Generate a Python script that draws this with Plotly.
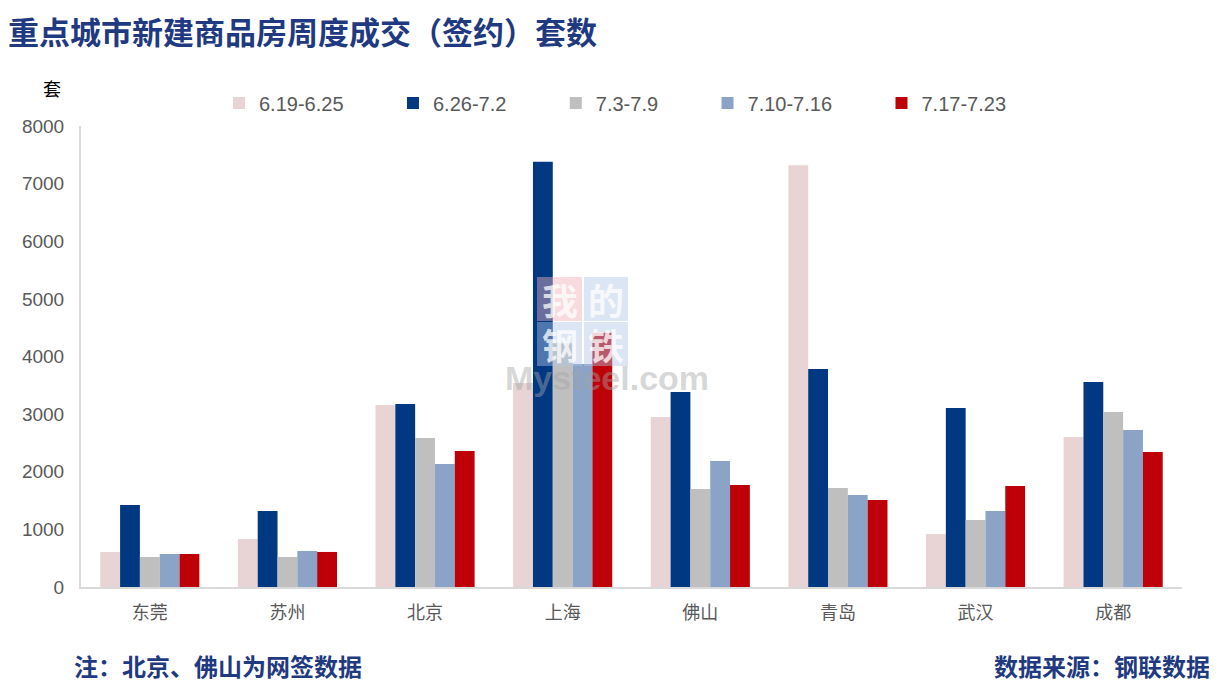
import plotly.graph_objects as go

cities = ["东莞", "苏州", "北京", "上海", "佛山", "青岛", "武汉", "成都"]
weeks = ["6.19-6.25", "6.26-7.2", "7.3-7.9", "7.10-7.16", "7.17-7.23"]
w1 = [608, 833, 3160, 3540, 2951, 7320, 920, 2604]
w2 = [1424, 1319, 3177, 7378, 3385, 3785, 3108, 3559]
w3 = [521, 521, 2587, 4230, 1701, 1719, 1163, 3038]
w4 = [573, 625, 2135, 3872, 2188, 1597, 1319, 2726]
w5 = [573, 608, 2361, 4410, 1771, 1510, 1753, 2344]
series = [w1, w2, w3, w4, w5]
colors = ["#E8D4D4", "#003882", "#BFBFBF", "#8AA3C6", "#BE0008"]

NBSP = "\u00a0"
fig = go.Figure()
for name, vals, c in zip(weeks, series, colors):
    fig.add_trace(go.Bar(x=cities, y=vals, name=name + NBSP * 8,
                         marker=dict(color=c, line=dict(width=0))))

OFF = 8  # page body margin
FW, FH = 1217 - OFF, 683 - OFF
L, R, T, B = 81, 1182, 126, 587  # plot area in screen pixels
W, H = R - L, B - T
def px(x):
    return (x - L) / W
def py(y):
    return (B - y) / H

shapes = []
annotations = []
cells = [
    (537, 582, 277, 321, "rgba(240,175,185,0.45)", "我"),
    (584, 628, 277, 321, "rgba(175,198,228,0.45)", "的"),
    (537, 582, 322, 366, "rgba(175,198,228,0.45)", "钢"),
    (584, 628, 322, 366, "rgba(175,198,228,0.45)", "铁"),
]
for x0, x1, y0, y1, col, ch in cells:
    shapes.append(dict(type="rect", xref="paper", yref="paper", x0=px(x0), x1=px(x1),
                       y0=py(y1), y1=py(y0), fillcolor=col, line=dict(width=0), layer="above"))
    annotations.append(dict(xref="paper", yref="paper", x=px((x0 + x1) / 2), y=py((y0 + y1) / 2),
                            text="<b>" + ch + "</b>", showarrow=False,
                            font=dict(family="Noto Sans CJK SC", size=36, color="rgba(255,255,255,0.75)"),
                            xanchor="center", yanchor="middle"))
annotations.append(dict(xref="paper", yref="paper", x=px(607), y=py(378), text="<b>Mysteel.com</b>",
                        showarrow=False, font=dict(family="Liberation Sans", size=34,
                                                   color="rgba(165,165,165,0.45)"),
                        xanchor="center", yanchor="middle"))
annotations.append(dict(xref="paper", yref="paper", x=px(52), y=py(88), text="套", showarrow=False,
                        font=dict(family="Noto Sans CJK SC", size=18, color="#000000"),
                        xanchor="center", yanchor="middle"))
annotations.append(dict(xref="paper", yref="paper", x=px(72), y=py(665), text="<b>注：北京、佛山为网签数据</b>",
                        showarrow=False, font=dict(family="Noto Sans CJK SC", size=24, color="#1F3A80"),
                        xanchor="left", yanchor="middle"))
annotations.append(dict(xref="paper", yref="paper", x=px(1212), y=py(665), text="<b>数据来源：钢联数据</b>",
                        showarrow=False, font=dict(family="Noto Sans CJK SC", size=24, color="#1F3A80"),
                        xanchor="right", yanchor="middle"))

fig.update_layout(
    width=FW, height=FH,
    margin=dict(l=L - OFF, r=FW - (R - OFF), t=T - OFF, b=FH - (B - OFF), autoexpand=False),
    paper_bgcolor="white", plot_bgcolor="white",
    barmode="group", bargap=0.28, bargroupgap=0,
    title=dict(text="<b>重点城市新建商品房周度成交（签约）套数</b>", xref="container", yref="container",
               x=0.0, y=1 - (33 - OFF) / FH, xanchor="left", yanchor="middle", pad=dict(l=0),
               font=dict(family="Noto Sans CJK SC", size=31, color="#1F3A80")),
    legend=dict(orientation="h", x=px(219), y=py(103), xanchor="left", yanchor="middle",
                font=dict(family="Liberation Sans", size=20, color="#595959"),
                bgcolor="rgba(0,0,0,0)", itemwidth=30, traceorder="normal"),
    xaxis=dict(showline=True, linecolor="#D9D9D9", linewidth=2, showgrid=False, ticks="",
               tickfont=dict(family="Noto Sans CJK SC", size=18, color="#595959"), ticklabelstandoff=8),
    yaxis=dict(range=[0, 8000], dtick=1000, showline=True, linecolor="#D9D9D9", linewidth=2,
               showgrid=False, zeroline=False, ticks="",
               tickfont=dict(family="Liberation Sans", size=19, color="#595959"), ticklabelstandoff=11),
    shapes=shapes, annotations=annotations,
)
fig.write_html("out.html")
